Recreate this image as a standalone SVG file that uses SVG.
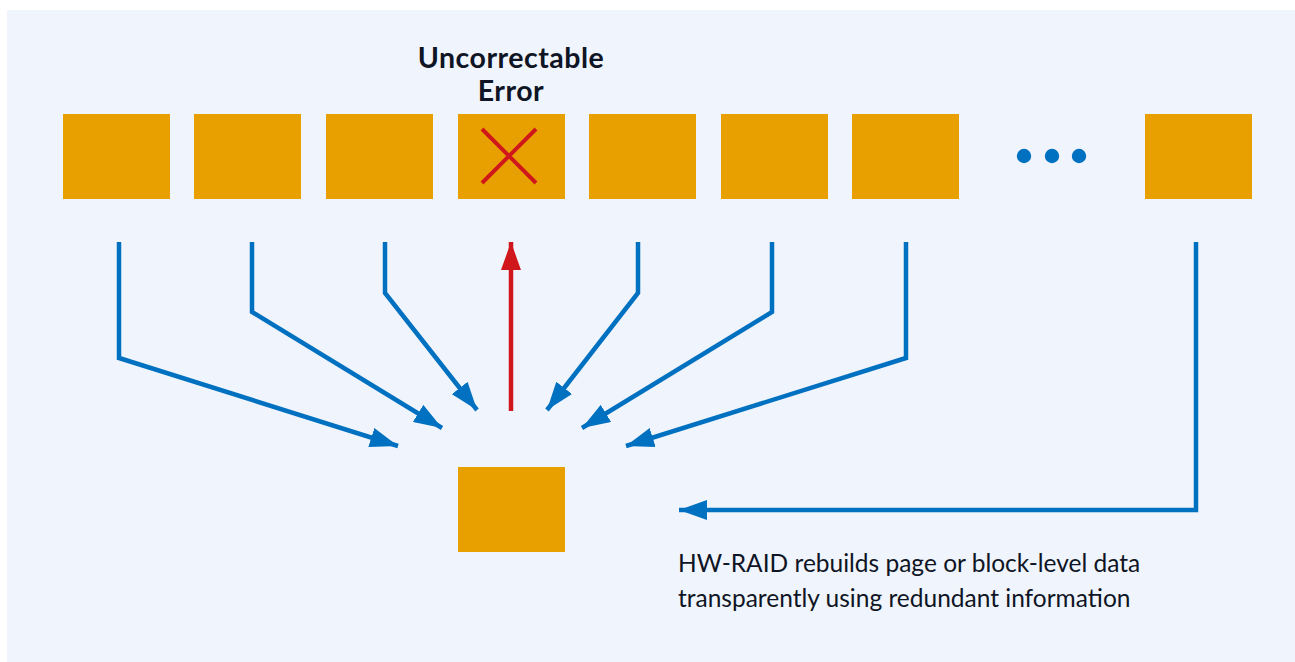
<svg xmlns="http://www.w3.org/2000/svg" width="1295" height="662" viewBox="0 0 1295 662">
  <style>
    .blk { fill: #E89F00; }
    .flow { fill: none; stroke: #0070C0; stroke-width: 4.5; stroke-linejoin: miter; }
    .fix { fill: none; stroke: #D0181C; stroke-width: 4.5; }
    .title { font-family: Lato, "Liberation Sans", sans-serif; font-weight: 700; font-size: 28.5px; letter-spacing: 0.5px; fill: #0F1525; text-anchor: middle; }
    .note { font-family: Lato, "Liberation Sans", sans-serif; font-size: 24.5px; fill: #0F1525; }
  </style>
  <defs>
    <marker id="arrBlue" viewBox="0 0 28 20" refX="28" refY="10" markerWidth="28" markerHeight="20" markerUnits="userSpaceOnUse" orient="auto">
      <path d="M0,0 L28,10 L0,20 Z" fill="#0070C0"/>
    </marker>
    <marker id="arrRed" viewBox="0 0 28 20" refX="28" refY="10" markerWidth="28" markerHeight="20" markerUnits="userSpaceOnUse" orient="auto">
      <path d="M0,0 L28,10 L0,20 Z" fill="#D0181C"/>
    </marker>
  </defs>

  <rect x="7" y="10" width="1288" height="652" fill="#F0F4FC"/>

  <!-- stripe of data blocks -->
  <g id="block1"><rect class="blk" x="63" y="114" width="107" height="85"/></g>
  <g id="block2"><rect class="blk" x="194" y="114" width="107" height="85"/></g>
  <g id="block3"><rect class="blk" x="326" y="114" width="107" height="85"/></g>
  <g id="block-error">
    <text class="title" x="511" y="68">Uncorrectable</text>
    <text class="title" x="511" y="101">Error</text>
    <rect class="blk" x="458" y="114" width="107" height="85"/>
    <path d="M482,129 L536,183 M536,129 L482,183" stroke="#D0181C" stroke-width="4" fill="none"/>
  </g>
  <g id="block5"><rect class="blk" x="589" y="114" width="107" height="85"/></g>
  <g id="block6"><rect class="blk" x="721" y="114" width="107" height="85"/></g>
  <g id="block7"><rect class="blk" x="852" y="114" width="107" height="85"/></g>
  <g id="ellipsis" fill="#0070C0">
    <circle cx="1024" cy="156" r="7.2"/>
    <circle cx="1052" cy="156" r="7.2"/>
    <circle cx="1079" cy="156" r="7.2"/>
  </g>
  <g id="blockN"><rect class="blk" x="1145" y="114" width="107" height="85"/></g>

  <!-- rebuilt block -->
  <g id="rebuilt"><rect class="blk" x="458" y="467" width="107" height="85"/></g>

  <!-- connectors -->
  <g id="connectors">
    <polyline class="flow" points="119,242 119,358 398,446" marker-end="url(#arrBlue)"/>
    <polyline class="flow" points="252,242 252,312 442,428" marker-end="url(#arrBlue)"/>
    <polyline class="flow" points="385,242 385,293 477,410" marker-end="url(#arrBlue)"/>
    <polyline class="flow" points="638,242 638,293 547,410" marker-end="url(#arrBlue)"/>
    <polyline class="flow" points="772,242 772,312 582,428" marker-end="url(#arrBlue)"/>
    <polyline class="flow" points="906,242 906,358 626,446" marker-end="url(#arrBlue)"/>
    <polyline class="flow" points="1196,242 1196,510 679,510" marker-end="url(#arrBlue)"/>
    <line class="fix" x1="511" y1="411" x2="511" y2="242" marker-end="url(#arrRed)"/>
  </g>

  <g id="caption">
    <text class="note" x="678" y="572">HW-RAID rebuilds page or block-level data</text>
    <text class="note" x="678" y="607">transparently using redundant information</text>
  </g>
</svg>
